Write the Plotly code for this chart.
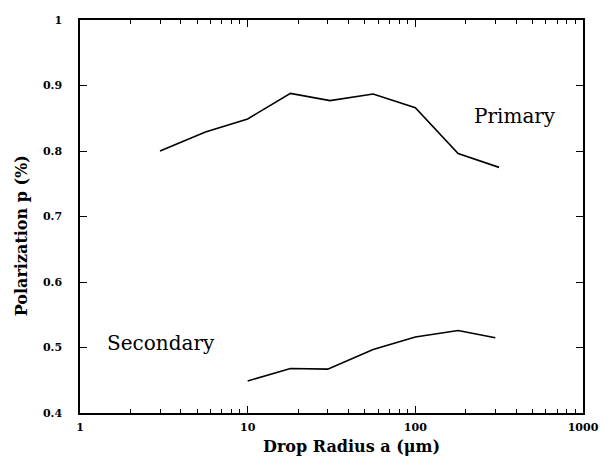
import plotly.graph_objects as go

# Data
primary_radius = [3.0, 5.6, 10, 18, 31, 56, 100, 180, 316]
primary_pol = [0.800, 0.829, 0.849, 0.888, 0.877, 0.887, 0.866, 0.796, 0.775]

secondary_radius = [10, 18, 30, 56, 100, 180, 300]
secondary_pol = [0.449, 0.468, 0.467, 0.497, 0.516, 0.526, 0.515]

x_ticks = [1, 10, 100, 1000]
x_ticktext = ["1", "10", "100", "1000"]
y_ticks = [0.4, 0.5, 0.6, 0.7, 0.8, 0.9, 1.0]
y_ticktext = ["0.4", "0.5", "0.6", "0.7", "0.8", "0.9", "1"]
x_minor = [m * 10 ** k for k in range(3) for m in range(2, 10)]

line_style = dict(color="black", width=1.6)

fig = go.Figure()
fig.add_trace(go.Scatter(x=primary_radius, y=primary_pol, mode="lines",
                         line=line_style, showlegend=False))
fig.add_trace(go.Scatter(x=secondary_radius, y=secondary_pol, mode="lines",
                         line=line_style, showlegend=False))

tick_font = dict(family="DejaVu Serif", size=11, color="black", weight="bold")
x_title_font = dict(family="DejaVu Serif", size=16, color="black", weight="bold")
y_title_font = dict(family="DejaVu Serif", size=16, color="black", weight="bold")
label_font = dict(family="DejaVu Serif", size=20, color="black")

fig.update_layout(
    width=611, height=456,
    margin=dict(l=80, r=18, t=20, b=43),
    paper_bgcolor="white", plot_bgcolor="white",
    xaxis=dict(
        type="log", range=[0, 3],
        tickvals=x_ticks, ticktext=x_ticktext,
        ticks="inside", ticklen=7, tickwidth=1.2, tickcolor="black",
        minor=dict(tickvals=x_minor, ticks="inside", ticklen=4,
                   tickwidth=1, tickcolor="black", showgrid=False),
        showline=True, linecolor="black", linewidth=1.5, mirror="ticks",
        showgrid=False, zeroline=False,
        tickfont=tick_font, ticklabelstandoff=3,
    ),
    yaxis=dict(
        range=[0.4, 1.0],
        tickvals=y_ticks, ticktext=y_ticktext,
        ticks="inside", ticklen=7, tickwidth=1.2, tickcolor="black",
        showline=True, linecolor="black", linewidth=1.5, mirror="ticks",
        showgrid=False, zeroline=False,
        tickfont=tick_font, ticklabelstandoff=14,
    ),
    annotations=[
        dict(x=2.597, y=0.853, xref="x", yref="y", text="Primary",
             showarrow=False, font=label_font),
        dict(x=0.483, y=0.507, xref="x", yref="y", text="Secondary",
             showarrow=False, font=label_font),
        dict(x=0.54, y=-0.0865, xref="paper", yref="paper",
             text="Drop Radius a (μm)", showarrow=False, font=x_title_font,
             xanchor="center", yanchor="middle"),
        dict(x=-0.117, y=0.45, xref="paper", yref="paper",
             text="Polarization p (%)", showarrow=False, font=y_title_font,
             textangle=-90, xanchor="center", yanchor="middle"),
    ],
)

fig.write_html("out.html")
